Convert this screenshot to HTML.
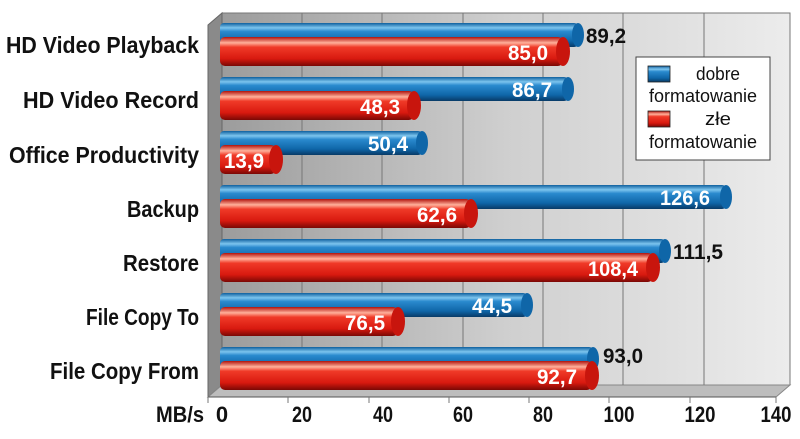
<!DOCTYPE html>
<html><head><meta charset="utf-8"><style>
html,body{margin:0;padding:0;background:#fff;}
svg text{font-family:"Liberation Sans Narrow","Liberation Sans",sans-serif;font-weight:bold;}
</style></head><body>
<svg width="800" height="434" viewBox="0 0 800 434" xmlns="http://www.w3.org/2000/svg">
<defs>
<linearGradient id="wall" x1="0" x2="1" y1="0" y2="0"><stop offset="0" stop-color="#9c9c9c"/><stop offset="0.5" stop-color="#cfcfcf"/><stop offset="1" stop-color="#ececec"/></linearGradient>
<linearGradient id="blue" x1="0" x2="0" y1="0" y2="1"><stop offset="0" stop-color="#0f5f9e"/><stop offset="0.2" stop-color="#7cc4ee"/><stop offset="0.35" stop-color="#2a8ace"/><stop offset="0.75" stop-color="#0f66a8"/><stop offset="1" stop-color="#083a66"/></linearGradient>
<linearGradient id="red" x1="0" x2="0" y1="0" y2="1"><stop offset="0" stop-color="#b0120c"/><stop offset="0.2" stop-color="#ffb09a"/><stop offset="0.35" stop-color="#f03a28"/><stop offset="0.75" stop-color="#d8190f"/><stop offset="1" stop-color="#7a0805"/></linearGradient>
</defs>
<rect x="222" y="13" width="568" height="372" fill="url(#wall)" stroke="#777" stroke-width="1"/>
<polygon points="208,25 222,13 222,385 208,397" fill="#8a8a8a" stroke="#666"/>
<polygon points="208,397 222,385 790,385 776,397" fill="#bdbdbd" stroke="#888"/>
<g stroke="#777" stroke-width="1">
<line x1="302" y1="13" x2="302" y2="385"/><line x1="382" y1="13" x2="382" y2="385"/><line x1="463" y1="13" x2="463" y2="385"/><line x1="543" y1="13" x2="543" y2="385"/><line x1="623" y1="13" x2="623" y2="385"/><line x1="704" y1="13" x2="704" y2="385"/>
<line x1="208" y1="397" x2="776" y2="397" stroke="#555"/>
<line x1="208" y1="397" x2="208" y2="403"/><line x1="288" y1="397" x2="288" y2="403"/><line x1="369" y1="397" x2="369" y2="403"/><line x1="449" y1="397" x2="449" y2="403"/><line x1="529" y1="397" x2="529" y2="403"/><line x1="609" y1="397" x2="609" y2="403"/><line x1="690" y1="397" x2="690" y2="403"/><line x1="776" y1="397" x2="776" y2="403"/>
</g>
<g font-size="22" fill="#111" text-anchor="middle">
<text x="222" y="422">0</text>
<text x="302" y="422" textLength="20" lengthAdjust="spacingAndGlyphs">20</text>
<text x="383" y="422" textLength="20" lengthAdjust="spacingAndGlyphs">40</text>
<text x="463" y="422" textLength="20" lengthAdjust="spacingAndGlyphs">60</text>
<text x="543" y="422" textLength="20" lengthAdjust="spacingAndGlyphs">80</text>
<text x="619" y="422" textLength="31" lengthAdjust="spacingAndGlyphs">100</text>
<text x="700" y="422" textLength="31" lengthAdjust="spacingAndGlyphs">120</text>
<text x="776" y="422" textLength="31" lengthAdjust="spacingAndGlyphs">140</text>
<text x="180" y="422" textLength="48" lengthAdjust="spacingAndGlyphs">MB/s</text>
</g>
<g font-size="23" fill="#111" text-anchor="end">
<text x="199" y="53" textLength="193" lengthAdjust="spacingAndGlyphs">HD Video Playback</text>
<text x="199" y="108" textLength="176" lengthAdjust="spacingAndGlyphs">HD Video Record</text>
<text x="199" y="163" textLength="190" lengthAdjust="spacingAndGlyphs">Office Productivity</text>
<text x="199" y="217" textLength="72" lengthAdjust="spacingAndGlyphs">Backup</text>
<text x="199" y="271" textLength="76" lengthAdjust="spacingAndGlyphs">Restore</text>
<text x="199" y="325" textLength="113" lengthAdjust="spacingAndGlyphs">File Copy To</text>
<text x="199" y="379" textLength="149" lengthAdjust="spacingAndGlyphs">File Copy From</text>
</g>
<g font-size="21">
<rect x="220" y="23" width="358" height="24" rx="4" fill="url(#blue)"/><ellipse cx="578" cy="35" rx="6" ry="12" fill="#0f66a8"/>
<rect x="220" y="37" width="343" height="29" rx="5" fill="url(#red)"/><ellipse cx="563" cy="51.5" rx="7" ry="14.5" fill="#c8150d"/>
<text x="586" y="43" fill="#111" textLength="40" lengthAdjust="spacingAndGlyphs">89,2</text><text x="548" y="60" fill="#fff" text-anchor="end" textLength="40" lengthAdjust="spacingAndGlyphs">85,0</text>

<rect x="220" y="77" width="348" height="24" rx="4" fill="url(#blue)"/><ellipse cx="568" cy="89" rx="6" ry="12" fill="#0f66a8"/>
<rect x="220" y="91" width="194" height="29" rx="5" fill="url(#red)"/><ellipse cx="414" cy="105.5" rx="7" ry="14.5" fill="#c8150d"/>
<text x="552" y="97" fill="#fff" text-anchor="end" textLength="40" lengthAdjust="spacingAndGlyphs">86,7</text><text x="400" y="114" fill="#fff" text-anchor="end" textLength="40" lengthAdjust="spacingAndGlyphs">48,3</text>

<rect x="220" y="131" width="202" height="24" rx="4" fill="url(#blue)"/><ellipse cx="422" cy="143" rx="6" ry="12" fill="#0f66a8"/>
<rect x="220" y="145" width="56" height="29" rx="5" fill="url(#red)"/><ellipse cx="276" cy="159.5" rx="7" ry="14.5" fill="#c8150d"/>
<text x="408" y="151" fill="#fff" text-anchor="end" textLength="40" lengthAdjust="spacingAndGlyphs">50,4</text><text x="264" y="168" fill="#fff" text-anchor="end" textLength="40" lengthAdjust="spacingAndGlyphs">13,9</text>

<rect x="220" y="185" width="506" height="24" rx="4" fill="url(#blue)"/><ellipse cx="726" cy="197" rx="6" ry="12" fill="#0f66a8"/>
<rect x="220" y="199" width="251" height="29" rx="5" fill="url(#red)"/><ellipse cx="471" cy="213.5" rx="7" ry="14.5" fill="#c8150d"/>
<text x="710" y="205" fill="#fff" text-anchor="end" textLength="50" lengthAdjust="spacingAndGlyphs">126,6</text><text x="457" y="222" fill="#fff" text-anchor="end" textLength="40" lengthAdjust="spacingAndGlyphs">62,6</text>

<rect x="220" y="239" width="445" height="24" rx="4" fill="url(#blue)"/><ellipse cx="665" cy="251" rx="6" ry="12" fill="#0f66a8"/>
<rect x="220" y="253" width="433" height="29" rx="5" fill="url(#red)"/><ellipse cx="653" cy="267.5" rx="7" ry="14.5" fill="#c8150d"/>
<text x="673" y="259" fill="#111" textLength="50" lengthAdjust="spacingAndGlyphs">111,5</text><text x="638" y="276" fill="#fff" text-anchor="end" textLength="50" lengthAdjust="spacingAndGlyphs">108,4</text>

<rect x="220" y="293" width="307" height="24" rx="4" fill="url(#blue)"/><ellipse cx="527" cy="305" rx="6" ry="12" fill="#0f66a8"/>
<rect x="220" y="307" width="178" height="29" rx="5" fill="url(#red)"/><ellipse cx="398" cy="321.5" rx="7" ry="14.5" fill="#c8150d"/>
<text x="512" y="313" fill="#fff" text-anchor="end" textLength="40" lengthAdjust="spacingAndGlyphs">44,5</text><text x="385" y="330" fill="#fff" text-anchor="end" textLength="40" lengthAdjust="spacingAndGlyphs">76,5</text>

<rect x="220" y="347" width="373" height="24" rx="4" fill="url(#blue)"/><ellipse cx="593" cy="359" rx="6" ry="12" fill="#0f66a8"/>
<rect x="220" y="361" width="372" height="29" rx="5" fill="url(#red)"/><ellipse cx="592" cy="375.5" rx="7" ry="14.5" fill="#c8150d"/>
<text x="603" y="363" fill="#111" textLength="40" lengthAdjust="spacingAndGlyphs">93,0</text><text x="577" y="384" fill="#fff" text-anchor="end" textLength="40" lengthAdjust="spacingAndGlyphs">92,7</text>
</g>
<rect x="636" y="57" width="134" height="103" fill="#fff" stroke="#444" stroke-width="1"/>
<rect x="648" y="66" width="22" height="16" fill="url(#blue)" stroke="#222" stroke-width="0.8"/>
<rect x="648" y="111" width="22" height="16" fill="url(#red)" stroke="#222" stroke-width="0.8"/>
<g font-size="18" fill="#111" text-anchor="middle">
<text x="718" y="80" style="font-weight:normal" textLength="44" lengthAdjust="spacingAndGlyphs">dobre</text>
<text x="703" y="102" style="font-weight:normal" textLength="108" lengthAdjust="spacingAndGlyphs">formatowanie</text>
<text x="718" y="125" style="font-weight:normal" textLength="26" lengthAdjust="spacingAndGlyphs">złe</text>
<text x="703" y="148" style="font-weight:normal" textLength="108" lengthAdjust="spacingAndGlyphs">formatowanie</text>
</g>
</svg>
</body></html>
